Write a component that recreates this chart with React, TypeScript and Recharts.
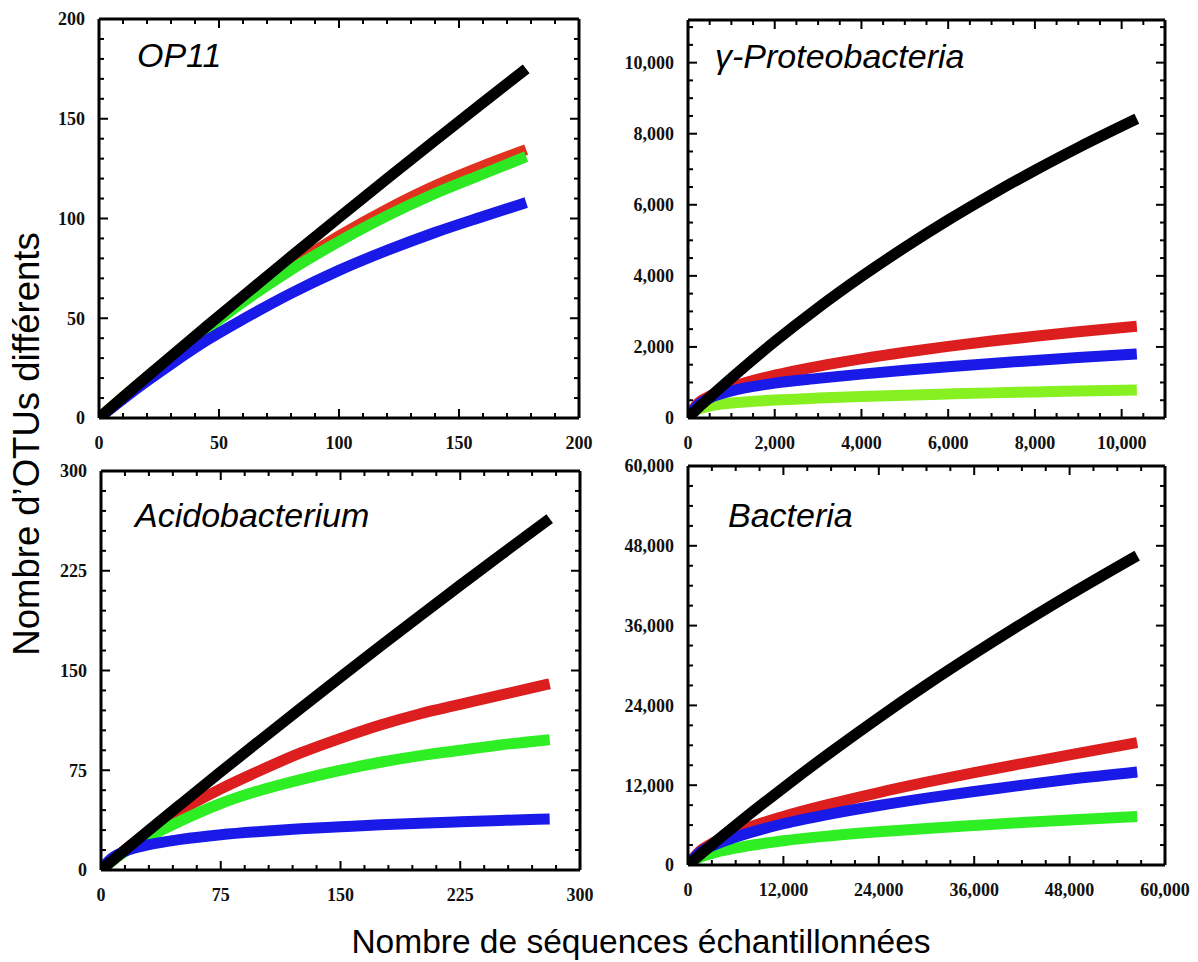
import { LineChart, Line, XAxis, YAxis } from 'recharts';

// OP11
const op11X = [0, 10, 20, 30, 45, 60, 80, 100, 120, 140, 160, 178];
const op11Black = [0, 10.4, 20.7, 30.9, 46.1, 61.1, 80.9, 100.5, 119.9, 139.1, 158.1, 175];
const op11Red = [0, 10.4, 20.6, 30.6, 45.2, 59.2, 76, 91.2, 104.6, 116.4, 126.4, 134.5];
const op11Green = [0, 10.4, 20.5, 30.3, 44.6, 58.1, 74.3, 88.5, 101.3, 112.5, 122.3, 131];
const op11Blue = [0, 9.5, 18.5, 27, 39, 49.5, 62.5, 74, 84, 93, 101, 108];
const op11XTicks = [0, 50, 100, 150, 200];
const op11YTicks = [0, 50, 100, 150, 200];

// gamma-Proteobacteria
const gammaX = [0, 200, 500, 1000, 2000, 3000, 4000, 5000, 6000, 7000, 8000, 9000, 10350];
const gammaBlack = [0, 244, 580, 1120, 2150, 3100, 3980, 4800, 5570, 6290, 6970, 7610, 8420];
const gammaRed = [0, 375, 615, 865, 1205, 1455, 1665, 1850, 2015, 2165, 2300, 2425, 2580];
const gammaGreen = [0, 230, 335, 420, 505, 560, 605, 643, 677, 707, 735, 760, 790];
const gammaBlue = [0, 330, 560, 760, 980, 1115, 1235, 1345, 1445, 1535, 1620, 1700, 1800];
const gammaXTicks = [0, 2000, 4000, 6000, 8000, 10000];
const gammaYTicks = [0, 2000, 4000, 6000, 8000, 10000];

// Acidobacterium
const acidoX = [0, 5, 15, 30, 50, 75, 100, 125, 150, 175, 200, 225, 250, 281];
const acidoBlack = [0, 5, 15, 29.9, 49.5, 73.8, 97.8, 121.5, 145, 168.3, 191.3, 214.1, 236.6, 264.2];
const acidoRed = [0, 5, 15, 29, 45, 61, 75, 88, 99, 109, 117.5, 124.5, 131.5, 140];
const acidoGreen = [0, 5, 14, 25, 37, 50, 60, 68, 75, 81, 86, 90, 94, 98];
const acidoBlue = [0, 7, 14, 19, 23, 26.5, 29, 31, 32.5, 34, 35.2, 36.3, 37.3, 38.3];
const acidoXTicks = [0, 75, 150, 225, 300];
const acidoYTicks = [0, 75, 150, 225, 300];

// Bacteria
const bactX = [0, 1500, 3000, 6000, 12000, 18000, 24000, 30000, 36000, 42000, 48000, 56500];
const bactBlack = [0, 1540, 3050, 5980, 11610, 17000, 22160, 27080, 31770, 36290, 40630, 46520];
const bactRed = [0, 2100, 3250, 4900, 7300, 9200, 10900, 12450, 13900, 15250, 16550, 18400];
const bactGreen = [0, 1150, 1750, 2550, 3650, 4400, 5000, 5500, 5950, 6380, 6780, 7300];
const bactBlue = [0, 1900, 2850, 4200, 6200, 7700, 8950, 10050, 11050, 12000, 12900, 14000];
const bactXTicks = [0, 12000, 24000, 36000, 48000, 60000];
const bactYTicks = [0, 12000, 24000, 36000, 48000, 60000];

const toRows = (xs: number[], k: number[], r: number[], g: number[], b: number[]) =>
  xs.map((x, i) => ({ x, black: k[i], red: r[i], green: g[i], blue: b[i] }));

const steps = (max: number, step: number) => {
  const out: number[] = [];
  for (let v = 0; v <= max + 1e-9; v += step) out.push(v);
  return out;
};

const fmt = (v: number) => v.toLocaleString('en-US');

const LABEL_FONT = { fontFamily: '"Liberation Serif", serif', fontWeight: 700, fontSize: 18, fill: '#111' };

const panels = [
  {
    title: 'OP11', box: { x: 99, y: 19, w: 480, h: 399 }, titleAt: [38, 48],
    xMax: 200, yMax: 200, xStep: 10, yStep: 10, xTicks: op11XTicks, yTicks: op11YTicks,
    data: toRows(op11X, op11Black, op11Red, op11Green, op11Blue),
    red: '#e0321e', green: '#2ee824', blue: '#1a1ae8',
  },
  {
    title: 'γ-Proteobacteria', box: { x: 688, y: 20, w: 477, h: 398 }, titleAt: [27, 48],
    xMax: 11000, yMax: 11200, xStep: 500, yStep: 500, xTicks: gammaXTicks, yTicks: gammaYTicks,
    data: toRows(gammaX, gammaBlack, gammaRed, gammaGreen, gammaBlue),
    red: '#dc1e1e', green: '#86f020', blue: '#1a1ae8',
  },
  {
    title: 'Acidobacterium', box: { x: 101, y: 471, w: 479, h: 399 }, titleAt: [34, 56],
    xMax: 300, yMax: 300, xStep: 15, yStep: 15, xTicks: acidoXTicks, yTicks: acidoYTicks,
    data: toRows(acidoX, acidoBlack, acidoRed, acidoGreen, acidoBlue),
    red: '#dc1e1e', green: '#2eee24', blue: '#1a1ae8',
  },
  {
    title: 'Bacteria', box: { x: 688, y: 466, w: 477, h: 399 }, titleAt: [40, 61],
    xMax: 60000, yMax: 60000, xStep: 3000, yStep: 3000, xTicks: bactXTicks, yTicks: bactYTicks,
    data: toRows(bactX, bactBlack, bactRed, bactGreen, bactBlue),
    red: '#dc1e1e', green: '#2eee24', blue: '#1a1ae8',
  },
];

const tickStroke = { stroke: '#000', strokeWidth: 2 };

function BottomTick(props: any) {
  const { x, y, payload, majors } = props;
  const major = majors.includes(payload.value);
  return (
    <g>
      <line x1={x} y1={y} x2={x} y2={y - (major ? 9 : 5)} {...tickStroke} />
      {major && (
        <text x={x} y={y + 31} textAnchor="middle" {...LABEL_FONT}>{fmt(payload.value)}</text>
      )}
    </g>
  );
}

function TopTick(props: any) {
  const { x, y, payload, majors } = props;
  const major = majors.includes(payload.value);
  return <line x1={x} y1={y} x2={x} y2={y + (major ? 9 : 5)} {...tickStroke} />;
}

function LeftTick(props: any) {
  const { x, y, payload, majors } = props;
  const major = majors.includes(payload.value);
  return (
    <g>
      <line x1={x} y1={y} x2={x + (major ? 9 : 5)} y2={y} {...tickStroke} />
      {major && (
        <text x={x - 14} y={y} dy="0.35em" textAnchor="end" {...LABEL_FONT}>{fmt(payload.value)}</text>
      )}
    </g>
  );
}

function RightTick(props: any) {
  const { x, y, payload, majors } = props;
  const major = majors.includes(payload.value);
  return <line x1={x} y1={y} x2={x - (major ? 9 : 5)} y2={y} {...tickStroke} />;
}

function Panel({ cfg }: { cfg: any }) {
  const { box } = cfg;
  const xs = steps(cfg.xMax, cfg.xStep);
  const ys = steps(cfg.yMax, cfg.yStep);
  const axisLine = { stroke: '#000', strokeWidth: 3 };
  const common = { tickSize: 0, tickMargin: 0, tickLine: false, axisLine, interval: 0 as const, allowDataOverflow: true };
  const line = { type: 'monotone' as const, strokeWidth: 11, dot: false, isAnimationActive: false };
  return (
    <div style={{ position: 'absolute', left: box.x - 70, top: box.y - 20 }}>
      <LineChart width={box.w + 120} height={box.h + 60} data={cfg.data}
        margin={{ top: 10, right: 40, bottom: 10, left: 10 }}>
        <XAxis dataKey="x" type="number" domain={[0, cfg.xMax]} ticks={xs} height={30} {...common}
          tick={(p: any) => <BottomTick {...p} majors={cfg.xTicks} />} />
        <XAxis xAxisId="top" dataKey="x" orientation="top" type="number" domain={[0, cfg.xMax]} ticks={xs}
          height={10} {...common} tick={(p: any) => <TopTick {...p} majors={cfg.xTicks} />} />
        <YAxis type="number" domain={[0, cfg.yMax]} ticks={ys} width={60} {...common}
          tick={(p: any) => <LeftTick {...p} majors={cfg.yTicks} />} />
        <YAxis yAxisId="right" orientation="right" type="number" domain={[0, cfg.yMax]} ticks={ys}
          width={10} {...common} tick={(p: any) => <RightTick {...p} majors={cfg.yTicks} />} />
        <Line {...line} dataKey="red" stroke={cfg.red} />
        <Line {...line} dataKey="green" stroke={cfg.green} />
        <Line {...line} dataKey="blue" stroke={cfg.blue} />
        <Line {...line} dataKey="black" stroke="#000" />
      </LineChart>
    </div>
  );
}

export default function App() {
  return (
    <div style={{ position: 'absolute', left: 0, top: 0, width: 1198, height: 962, background: '#fff', overflow: 'hidden' }}>
      {panels.map((cfg) => <Panel key={cfg.title} cfg={cfg} />)}
      <svg width={1198} height={962} style={{ position: 'absolute', left: 0, top: 0, pointerEvents: 'none' }}>
        {panels.map((cfg) => (
          <text key={cfg.title} x={cfg.box.x + cfg.titleAt[0]} y={cfg.box.y + cfg.titleAt[1]}
            fontFamily='"Liberation Sans", Arial, sans-serif' fontStyle="italic" fontSize={34} fill="#000">
            {cfg.title}
          </text>
        ))}
        <text x={641} y={953} textAnchor="middle" fontFamily='"Liberation Sans", Arial, sans-serif' fontSize={33.5} fill="#000">
          Nombre de séquences échantillonnées
        </text>
        <text transform="translate(39 444) rotate(-90)" textAnchor="middle"
          fontFamily='"Liberation Sans", Arial, sans-serif' fontSize={36.5} fill="#000">
          Nombre d’OTUs différents
        </text>
      </svg>
    </div>
  );
}
